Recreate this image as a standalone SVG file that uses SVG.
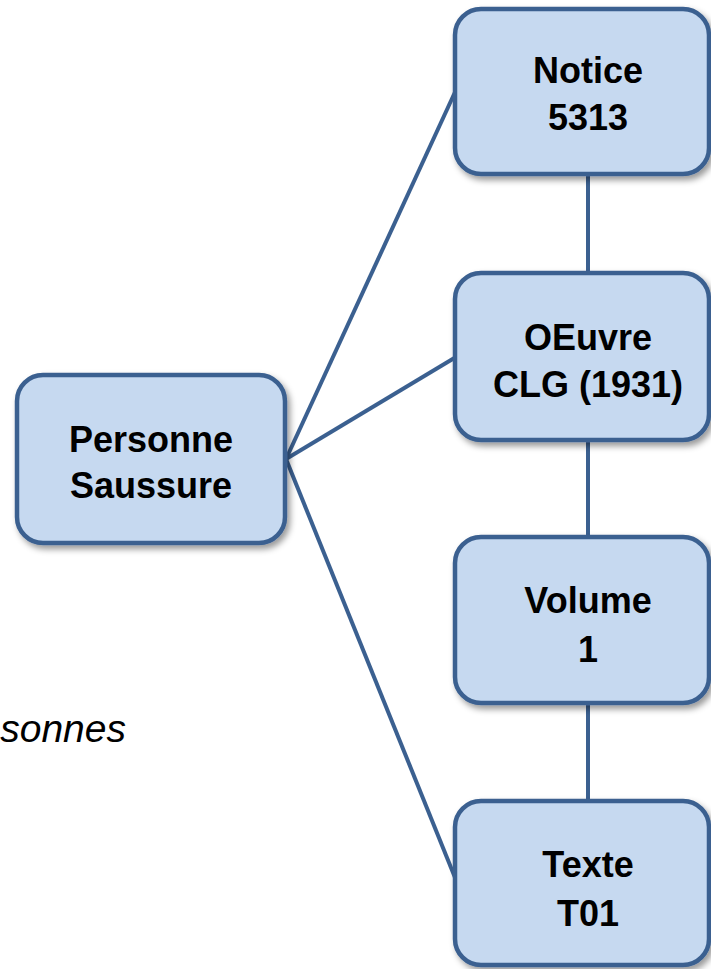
<svg xmlns="http://www.w3.org/2000/svg" width="711" height="969" viewBox="0 0 711 969">
<defs>
<filter id="sh" x="-10%" y="-10%" width="130%" height="130%">
<feDropShadow dx="3" dy="4" stdDeviation="3" flood-color="#000" flood-opacity="0.4"/>
</filter>
<style>
.box{fill:#c6d9f0;stroke:#3b6090;stroke-width:4.5;filter:url(#sh)}
.lbl{font-family:"Liberation Sans",Arial,sans-serif;font-weight:bold;font-size:36px;fill:#000;text-anchor:middle}
.con{stroke:#3b6090;stroke-width:4;fill:none}
</style>
</defs>
<rect width="711" height="969" fill="#fff"/>
<g id="connectors">
<line class="con" x1="286" y1="459" x2="456" y2="90"/>
<line class="con" x1="286" y1="459" x2="456" y2="357"/>
<line class="con" x1="286" y1="459" x2="456" y2="880"/>
<line class="con" x1="588" y1="174" x2="588" y2="273"/>
<line class="con" x1="588" y1="440" x2="588" y2="537"/>
<line class="con" x1="588" y1="703" x2="588" y2="801"/>
</g>
<g id="personne">
<rect class="box" x="17" y="375" width="268" height="168" rx="26"/>
<text class="lbl" x="151" y="452">Personne</text>
<text class="lbl" x="151" y="498">Saussure</text>
</g>
<g id="notice">
<rect class="box" x="455" y="9" width="254" height="165" rx="26"/>
<text class="lbl" x="588" y="83">Notice</text>
<text class="lbl" x="588" y="130">5313</text>
</g>
<g id="oeuvre">
<rect class="box" x="455" y="273" width="254" height="167" rx="26"/>
<text class="lbl" x="588" y="350">OEuvre</text>
<text class="lbl" x="588" y="397">CLG (1931)</text>
</g>
<g id="volume">
<rect class="box" x="455" y="537" width="254" height="166" rx="26"/>
<text class="lbl" x="588" y="613">Volume</text>
<text class="lbl" x="588" y="662">1</text>
</g>
<g id="texte">
<rect class="box" x="455" y="801" width="254" height="164" rx="26"/>
<text class="lbl" x="588" y="877">Texte</text>
<text class="lbl" x="588" y="926">T01</text>
</g>
<text x="126" y="742" font-family="'Liberation Sans',Arial,sans-serif" font-style="italic" font-size="39" text-anchor="end">sonnes</text>
</svg>
